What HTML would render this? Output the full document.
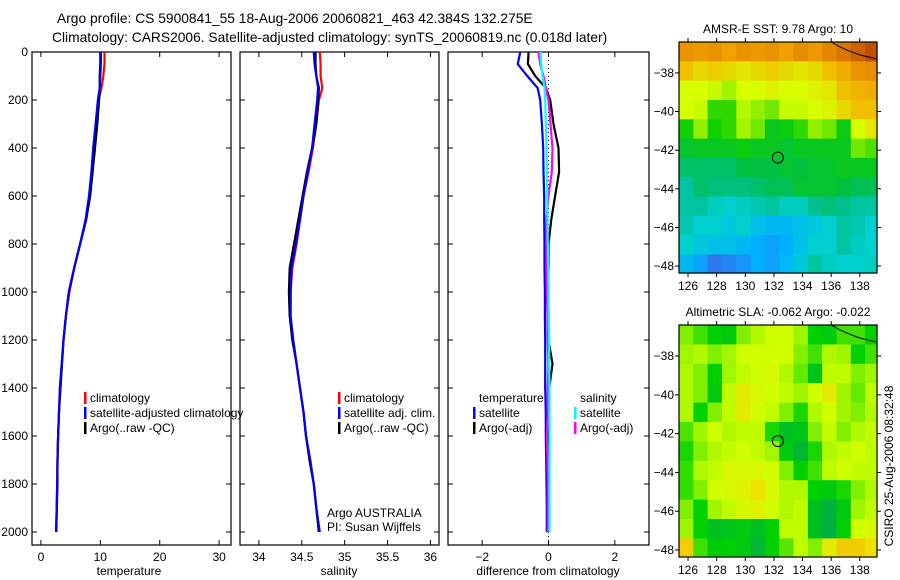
<!DOCTYPE html>
<html><head><meta charset="utf-8">
<style>
html,body{margin:0;padding:0;background:#fff;}
svg{display:block;font-family:"Liberation Sans",sans-serif;}
text{font-size:12px;fill:#000;}
.ttl{font-size:13.8px;}
</style></head>
<body>
<svg id="fig" width="900" height="580" viewBox="0 0 900 580" xmlns="http://www.w3.org/2000/svg">
<text class="ttl" x="57" y="23">Argo profile: CS 5900841_55 18-Aug-2006 20060821_463 42.384S 132.275E</text>
<text class="ttl" x="52" y="42">Climatology: CARS2006. Satellite-adjusted climatology: synTS_20060819.nc (0.018d later)</text>
<g id="g1"></g>
<g id="g2"></g>
<g id="g3"></g>
<g id="m1"></g>
<g id="m2"></g>
<text x="129" y="575" text-anchor="middle">temperature</text>
<text x="339" y="575" text-anchor="middle">salinity</text>
<text x="548" y="575" text-anchor="middle">difference from climatology</text>
<text x="327" y="517">Argo AUSTRALIA</text>
<text x="327" y="531">PI: Susan Wijffels</text>
<text x="778" y="33" text-anchor="middle">AMSR-E SST: 9.78 Argo: 10</text>
<text x="778" y="316" text-anchor="middle">Altimetric SLA: -0.062 Argo: -0.022</text>
<text transform="translate(893,466) rotate(-90)" text-anchor="middle">CSIRO 25-Aug-2006 08:32:48</text>
</svg>
<script>
const depths=[0,50,100,150,200,300,400,500,600,700,800,900,1000,1100,1200,1300,1400,1500,1600,1700,1800,1900,2000];
const tempClim=[10.7,10.7,10.5,10.2,9.7,9.4,8.9,8.6,8.2,7.6,6.6,5.6,4.8,4.2,3.8,3.5,3.2,3.05,2.9,2.8,2.8,2.7,2.6];
const tempSat=[10.1,10.1,10.0,9.9,9.6,9.2,8.8,8.5,8.1,7.5,6.6,5.6,4.7,4.2,3.8,3.5,3.2,3.05,2.9,2.8,2.75,2.65,2.55];
const tempArgo=[10.0,10.0,9.9,9.9,9.8,9.5,9.1,8.7,8.3,7.6,6.6,5.6,4.7,4.2,3.8,3.55,3.3,3.05,2.9,2.8,2.75,2.65,2.55];
const salClim=[34.71,34.72,34.72,34.74,34.70,34.67,34.63,34.58,34.52,34.48,34.44,34.39,34.37,34.37,34.40,34.44,34.48,34.52,34.55,34.59,34.64,34.67,34.70];
const salSat=[34.64,34.65,34.67,34.69,34.68,34.65,34.62,34.57,34.52,34.48,34.43,34.38,34.37,34.37,34.40,34.44,34.48,34.52,34.55,34.60,34.64,34.67,34.71];
const salArgo=[34.66,34.66,34.67,34.70,34.69,34.67,34.62,34.56,34.51,34.46,34.41,34.36,34.35,34.36,34.39,34.44,34.48,34.52,34.55,34.59,34.64,34.67,34.70];
const dTempSat=[-0.85,-0.93,-0.64,-0.33,-0.25,-0.2,-0.16,-0.15,-0.13,-0.13,-0.12,-0.12,-0.11,-0.11,-0.1,-0.1,-0.1,-0.08,-0.08,-0.07,-0.06,-0.05,-0.05];
const dTempArgo=[-0.6,-0.62,-0.4,-0.08,0.05,0.15,0.3,0.32,0.2,0.08,0.0,0.0,-0.02,0.0,0.0,0.12,0.02,0.0,0.0,0.0,0.0,-0.02,-0.02];
const dSalSat=[-0.24,-0.22,-0.18,-0.12,-0.1,-0.08,-0.06,-0.05,-0.04,-0.03,-0.02,-0.01,0.0,0.01,0.02,0.02,0.03,0.03,0.03,0.03,0.03,0.03,0.03];
const dSalArgo=[-0.3,-0.25,-0.15,-0.08,0.0,0.06,0.12,0.1,0.0,-0.06,-0.05,-0.05,-0.05,-0.03,-0.02,0.0,-0.02,-0.02,-0.05,-0.03,-0.02,-0.02,-0.02];
const depthTicks=[0,200,400,600,800,1000,1200,1400,1600,1800,2000];
const tempTicks=[0,10,20,30];
const salTicks=[34,34.5,35,35.5,36];
const salTickLabels=["34","34.5","35","35.5","36"];
const diffTicks=[-2,0,2];
const diffTickLabels=["\u22122","0","2"];
const mapLons=[126,128,130,132,134,136,138];
const mapLats=[-38,-40,-42,-44,-46,-48];
const sstGrid=[
[12.2,12.1,12.2,12.0,12.2,12.1,12.2,12.0,12.3,12.1,12.4,12.6,12.8,13.0],
[11.5,11.3,11.4,11.3,11.2,11.3,11.4,11.3,11.2,11.3,11.5,11.8,12.2,12.3],
[11.0,11.0,10.9,10.7,11.0,11.0,11.1,11.0,11.0,11.1,11.2,11.5,11.7,11.8],
[11.0,10.9,10.3,10.3,10.8,10.6,10.5,10.9,10.9,11.0,11.1,11.3,11.5,11.5],
[10.2,10.6,10.2,10.3,10.7,10.5,10.0,10.1,10.3,10.6,10.5,10.1,11.0,11.2],
[9.9,10.0,10.0,10.0,10.1,10.0,10.0,9.9,10.0,10.0,10.0,10.0,10.5,10.4],
[9.6,9.6,9.6,9.6,9.8,9.8,9.8,9.9,9.8,9.9,9.9,10.0,10.0,10.0],
[9.3,9.6,9.5,9.5,9.5,9.6,9.7,9.7,9.9,9.9,9.9,9.8,9.7,9.7],
[9.3,9.3,9.1,9.0,9.1,9.2,9.3,9.1,9.1,9.4,9.5,9.4,9.3,9.3],
[9.2,9.0,9.0,8.9,9.0,8.8,8.7,8.7,8.8,8.9,9.0,9.3,9.2,9.0],
[9.0,8.9,8.8,8.8,8.7,8.6,8.5,8.6,8.8,9.0,9.0,9.3,9.1,9.0],
[8.7,8.5,8.2,8.3,8.4,8.6,8.5,8.7,8.9,9.3,9.1,9.0,9.0,9.1]];
const slaGrid=[
[0.0,-0.05,-0.1,-0.12,0.0,0.03,0.05,0.05,0.02,-0.1,-0.12,-0.05,-0.05,-0.1],
[0.02,0.03,0.0,0.02,0.05,0.05,0.05,0.05,0.0,-0.05,0.03,0.02,-0.1,-0.05],
[0.03,0.0,-0.1,0.02,0.04,0.05,0.06,0.03,-0.02,-0.14,0.04,0.04,0.0,0.02],
[0.03,0.0,-0.12,0.04,0.08,0.06,0.05,0.04,0.02,0.05,0.08,0.02,-0.02,0.04],
[0.03,-0.1,0.0,0.04,0.08,0.05,0.04,0.0,-0.08,0.03,0.05,0.02,0.0,0.03],
[-0.04,0.02,0.05,0.03,0.04,0.04,-0.08,-0.15,-0.14,0.0,0.04,0.0,0.03,0.04],
[-0.08,0.0,0.03,0.04,0.05,0.04,0.02,-0.12,-0.18,-0.08,0.03,0.04,0.05,0.04],
[-0.06,0.03,0.04,0.06,0.06,0.06,0.05,0.0,-0.1,-0.05,0.04,0.05,0.04,0.04],
[-0.06,0.0,0.05,0.06,0.07,0.1,0.06,0.03,0.03,-0.1,-0.12,-0.08,0.0,0.03],
[0.0,-0.1,0.02,0.04,0.06,0.07,0.05,0.03,0.04,-0.15,-0.2,-0.12,0.02,0.04],
[0.02,-0.1,-0.15,-0.14,-0.12,-0.15,-0.1,0.04,0.04,-0.15,-0.2,-0.1,0.05,0.06],
[0.12,-0.05,-0.12,-0.1,-0.12,-0.18,-0.1,-0.03,0.04,0.0,0.08,0.12,0.12,0.1]];
const coastLon=[136.0,136.6,137.2,138.0,139.2];
const coastLat=[-36.4,-36.65,-36.85,-37.07,-37.28];
const floatLon=132.275, floatLat=-42.384;

const NS="http://www.w3.org/2000/svg";
function mk(tag,attrs,parent){const e=document.createElementNS(NS,tag);for(const k in attrs)e.setAttribute(k,attrs[k]);parent.appendChild(e);return e;}
const yTop=52,yBot=545;
function yD(d){return yTop+d*0.24;}

function panel(g,x0,x1,xmin,xmax,ticks,labels,showDepth){
  const xs=v=>x0+(v-xmin)/(xmax-xmin)*(x1-x0);
  ticks.forEach((t,i)=>{
    const x=xs(t);
    const a=mk('line',{x1:x,x2:x,y1:yTop,y2:yTop+5,stroke:'#000'},g);
    
    const b=mk('line',{x1:x,x2:x,y1:yBot,y2:yBot-5,stroke:'#000'},g);
    
    const tx=mk('text',{x:x,y:yBot+16,'text-anchor':'middle'},g);tx.textContent=labels[i];
    
  });
  depthTicks.forEach(d=>{
    const y=yD(d);
    const a=mk('line',{x1:x0,x2:x0+5,y1:y,y2:y,stroke:'#000'},g);
    
    const b=mk('line',{x1:x1,x2:x1-5,y1:y,y2:y,stroke:'#000'},g);
    
    if(showDepth){const t=mk('text',{x:x0-4,y:y+4,'text-anchor':'end'},g);t.textContent=d;
      }
  });
  const r=mk('rect',{x:x0,y:yTop,width:x1-x0,height:yBot-yTop,fill:'none',stroke:'#000','stroke-width':1.2},g);
  
  return xs;
}
function line(g,xs,vals,color,name){
  const pts=vals.map((v,i)=>xs(v).toFixed(1)+','+yD(depths[i]).toFixed(1)).join(' ');
  const p=mk('polyline',{points:pts,fill:'none',stroke:color,'stroke-width':2.2},g);
  
}
function legend(g,x,y,items){
  items.forEach((it,i)=>{
    const yy=y+i*15;
    if(it[0]){const b=mk('rect',{x:x,y:yy-10,width:2.5,height:12,fill:it[0]},g);
      }
    const t=mk('text',{x:x+6,y:yy},g);t.textContent=it[1];
    
  });
}
const g1=document.getElementById('g1'),g2=document.getElementById('g2'),g3=document.getElementById('g3');
const xs1=panel(g1,32,231,-1.5,32,tempTicks,tempTicks.map(String),true);
line(g1,xs1,tempClim,'#ff0000','temp-climatology-line');
line(g1,xs1,tempArgo,'#000000','temp-argo-line');
line(g1,xs1,tempSat,'#0000ff','temp-satellite-line');
legend(g1,84,402,[['#f00','climatology'],['#00f','satellite-adjusted climatology'],['#000','Argo(..raw -QC)']]);
const xs2=panel(g2,240,439,33.78,36.1,salTicks,salTickLabels,false);
line(g2,xs2,salClim,'#ff0000','sal-climatology-line');
line(g2,xs2,salArgo,'#000000','sal-argo-line');
line(g2,xs2,salSat,'#0000ff','sal-satellite-line');
legend(g2,338,402,[['#f00','climatology'],['#00f','satellite adj. clim.'],['#000','Argo(..raw -QC)']]);
const xs3=panel(g3,448,649,-3.03,3.03,diffTicks,diffTickLabels,false);
const zl=mk('line',{x1:xs3(0),x2:xs3(0),y1:yTop,y2:yBot,stroke:'#000','stroke-dasharray':'1,3'},g3);

line(g3,xs3,dTempArgo,'#000000','dtemp-argo-line');
line(g3,xs3,dTempSat,'#0000ff','dtemp-satellite-line');
line(g3,xs3,dSalArgo,'#ff00ff','dsal-argo-line');
line(g3,xs3,dSalSat,'#00ffff','dsal-satellite-line');
legend(g3,473,402,[[null,'temperature'],['#00f','satellite'],['#000','Argo(-adj)']]);
legend(g3,574,402,[[null,'salinity'],['#0ff','satellite'],['#f0f','Argo(-adj)']]);

function interp(stops,v){
  if(v<=stops[0][0])return stops[0][1];
  for(let i=1;i<stops.length;i++){if(v<=stops[i][0]){const a=stops[i-1],b=stops[i];const f=(v-a[0])/(b[0]-a[0]);
    return 'rgb('+[0,1,2].map(k=>Math.round(a[1][k]+(b[1][k]-a[1][k])*f)).join(',')+')';}}
  return stops[stops.length-1][1];
}
function toRgb(s){if(typeof s==='string')return s;return 'rgb('+s.join(',')+')';}
const sstStops=[[8.2,[48,120,240]],[8.6,[0,176,255]],[9.0,[0,208,208]],[9.4,[0,192,144]],[9.8,[0,192,64]],[10.2,[16,208,0]],[10.6,[144,240,0]],[11.0,[216,255,0]],[11.5,[240,192,0]],[12.0,[240,160,0]],[12.5,[224,128,0]],[13.0,[192,80,0]]];
const slaStops=[[-0.2,[0,176,64]],[-0.1,[0,208,0]],[0.0,[128,240,0]],[0.05,[208,255,0]],[0.1,[240,224,0]],[0.15,[240,176,0]]];
function map(id,top,bot,grid,stops){
  const g=document.getElementById(id);
  const x0=679,x1=877,lonMin=125.37,lonMax=139.2,latTop=-36.4,latBot=-48.36;
  const xl=lon=>x0+(lon-lonMin)/(lonMax-lonMin)*(x1-x0);
  const yl=lat=>top+(latTop-lat)/(latTop-latBot)*(bot-top);
  grid.forEach((row,r)=>row.forEach((v,c)=>{
    const la=latTop-r, lo=lonMin+c;
    const xa=xl(lo),xb=Math.min(xl(lo+1),x1),ya=yl(la),yb=Math.min(yl(la-1),bot);
    const c0=interp(stops,v);
    const rc=mk('rect',{x:xa.toFixed(1),y:ya.toFixed(1),width:(xb-xa+0.6).toFixed(1),height:(yb-ya+0.6).toFixed(1),fill:toRgb(c0)},g);
    
  }));
  const pts=coastLon.map((lo,i)=>xl(lo).toFixed(1)+','+yl(coastLat[i]).toFixed(1)).join(' ');
  const cl=mk('polyline',{points:pts,fill:'none',stroke:'#000','stroke-width':1},g);
  
  const ci=mk('circle',{cx:xl(floatLon),cy:yl(floatLat),r:5.5,fill:'none',stroke:'#000','stroke-width':1},g);
  
  mapLons.forEach(lo=>{const x=xl(lo);
    const a=mk('line',{x1:x,x2:x,y1:top,y2:top-4,stroke:'#000'},g);
    const b=mk('line',{x1:x,x2:x,y1:bot,y2:bot+4,stroke:'#000'},g);
    const t=mk('text',{x:x,y:bot+17,'text-anchor':'middle'},g);t.textContent=lo;});
  mapLats.forEach(la=>{const y=yl(la);
    const a=mk('line',{x1:x0,x2:x0-4,y1:y,y2:y,stroke:'#000'},g);
    const b=mk('line',{x1:x1,x2:x1+4,y1:y,y2:y,stroke:'#000'},g);
    const t=mk('text',{x:x0-5,y:y+4,'text-anchor':'end'},g);t.textContent='\u2212'+Math.abs(la);});
  const fr=mk('rect',{x:x0,y:top,width:x1-x0,height:bot-top,fill:'none',stroke:'#000','stroke-width':1.2},g);
  
}
map('m1',42,273,sstGrid,sstStops);
map('m2',325,557,slaGrid,slaStops);
</script>
</body></html>
